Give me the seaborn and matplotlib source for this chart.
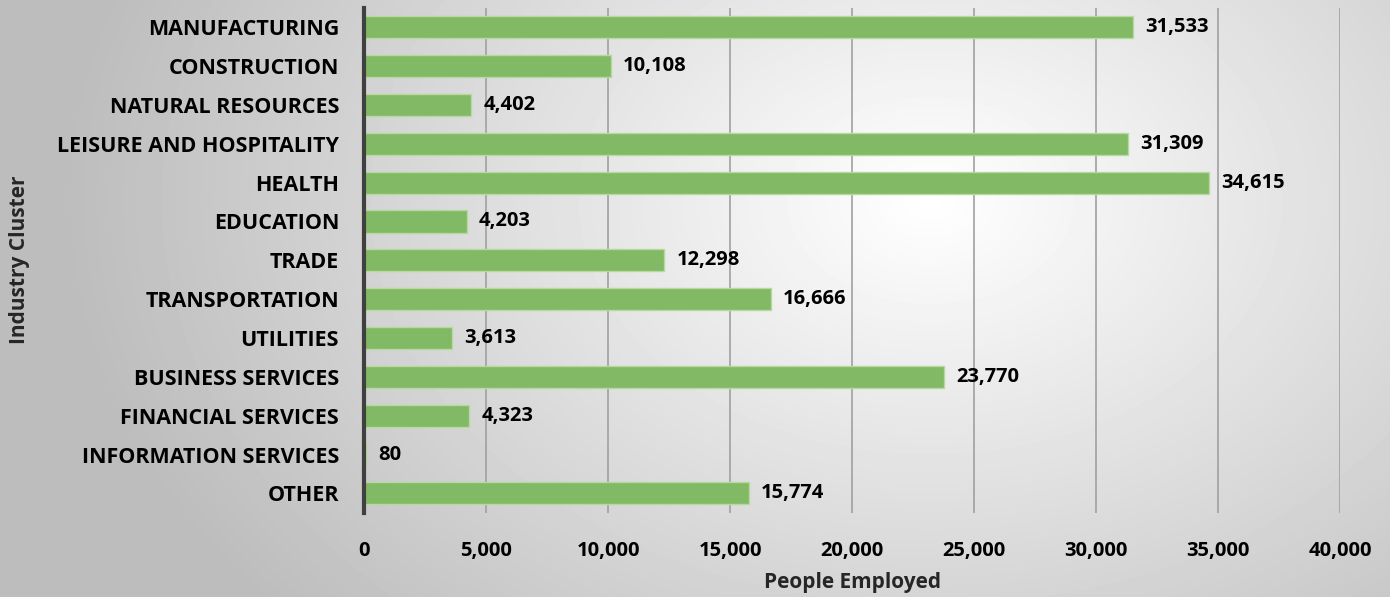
import matplotlib
matplotlib.use("Agg")
import matplotlib.pyplot as plt
import seaborn as sns
import numpy as np
import pandas as pd

industries = ["MANUFACTURING", "CONSTRUCTION", "NATURAL RESOURCES",
              "LEISURE AND HOSPITALITY", "HEALTH", "EDUCATION", "TRADE",
              "TRANSPORTATION", "UTILITIES", "BUSINESS SERVICES",
              "FINANCIAL SERVICES", "INFORMATION SERVICES", "OTHER"]
employed = [31533, 10108, 4402, 31309, 34615, 4203, 12298, 16666, 3613,
            23770, 4323, 80, 15774]
x_ticks = [0, 5000, 10000, 15000, 20000, 25000, 30000, 35000, 40000]

df = pd.DataFrame({"industry": industries, "employed": employed})

sns.set_style("white")
plt.rcParams['font.family'] = ['Open Sans', 'DejaVu Sans']

fig = plt.figure(figsize=(13.9, 5.97), dpi=100)

# radial grey background
bg = fig.add_axes([0, 0, 1, 1], zorder=-10)
yy, xx = np.mgrid[0:597, 0:1390]
r = np.sqrt(((xx - 930) / 900.0) ** 2 + ((yy - 200) / 650.0) ** 2)
shade = np.clip(1.0 - 0.27 * r, 0.74, 1.0)
bg.imshow(shade, cmap="gray", vmin=0, vmax=1, aspect="auto", interpolation="bilinear")
bg.axis("off")

ax = fig.add_axes([364 / 1390, 0.141, 976 / 1390, 0.846])
ax.patch.set_alpha(0)
sns.barplot(data=df, x="employed", y="industry", ax=ax, color="#82b964",
            saturation=1, width=0.57, edgecolor="#b5d9a0", linewidth=1)

ax.set_xlim(0, 40000)
ax.set_ylim(12.5, -0.5)
ax.set_xticks(x_ticks)
ax.set_xticklabels([f"{t:,}" for t in x_ticks], fontsize=14.5, fontweight="bold")
ax.tick_params(axis="x", length=0, pad=20, colors="#000000")
ax.tick_params(axis="y", length=0, pad=18, colors="#000000")
for lab in ax.get_yticklabels():
    lab.set_fontsize(15.5)
    lab.set_fontweight("bold")

ax.grid(axis="x", color="#a0a0a0", linewidth=1.2)
ax.set_axisbelow(True)
for s in ["top", "right", "bottom"]:
    ax.spines[s].set_visible(False)
ax.spines["left"].set_color("#404040")
ax.spines["left"].set_linewidth(3)
ax.spines["left"].set_zorder(5)

for i, v in enumerate(employed):
    ax.text(v + 500, i, f"{v:,}", va="center", ha="left",
            fontsize=14.5, fontweight="bold", color="#000000")

ax.set_xlabel("People Employed", fontsize=15, fontweight="bold", labelpad=8)
ax.set_ylabel("")
fig.text(20 / 1390, 1 - 260 / 597, "Industry Cluster", rotation=90,
         ha="center", va="center", fontsize=15, fontweight="bold")

fig.savefig("out.png", dpi=100)
